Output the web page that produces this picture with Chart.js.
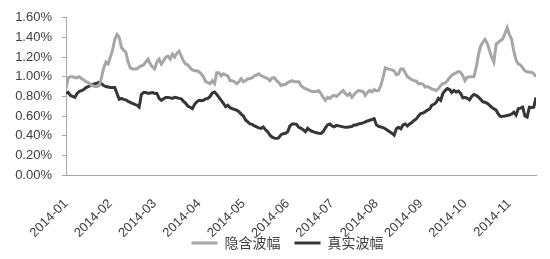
<!DOCTYPE html>
<html>
<head>
<meta charset="utf-8">
<script src="https://cdn.jsdelivr.net/npm/chart.js@4/dist/chart.umd.min.js"></script>
<style>
  html, body { margin: 0; padding: 0; background: #ffffff; }
  #wrap { width: 550px; height: 259px; position: relative; }
</style>
</head>
<body>
<div id="wrap"><canvas id="c"></canvas></div>
<script>
// Month tick labels (one every 20 trading days)
const monthLabels = ['2014-01','2014-02','2014-03','2014-04','2014-05','2014-06','2014-07','2014-08','2014-09','2014-10','2014-11'];
const daysPerLabel = 20;
const seriesNames = ['隐含波幅', '真实波幅'];

// 隐含波幅 (implied volatility, %), daily
const impliedVol = [
  0.88,0.99,1.00,1.00,0.99,0.99,1.00,0.98,0.97,0.95,
  0.94,0.92,0.91,0.90,0.90,0.91,0.99,1.09,1.15,1.13,
  1.20,1.27,1.38,1.43,1.40,1.30,1.27,1.25,1.15,1.09,
  1.08,1.08,1.08,1.10,1.11,1.12,1.15,1.18,1.13,1.10,
  1.08,1.15,1.18,1.13,1.16,1.20,1.21,1.18,1.23,1.20,
  1.24,1.26,1.21,1.16,1.13,1.12,1.09,1.07,1.06,1.06,
  1.05,1.03,1.00,0.95,0.94,0.93,0.96,0.93,1.04,1.04,
  1.01,1.03,1.02,1.01,0.96,0.96,0.95,0.93,0.95,0.98,
  0.95,0.96,0.98,0.98,0.99,1.01,1.02,1.03,1.01,1.00,
  0.99,0.98,0.96,0.99,0.99,0.96,0.94,0.91,0.92,0.92,
  0.94,0.95,0.96,0.95,0.95,0.95,0.91,0.89,0.88,0.87,
  0.86,0.85,0.85,0.85,0.86,0.83,0.79,0.76,0.79,0.78,
  0.80,0.81,0.80,0.82,0.84,0.86,0.83,0.81,0.83,0.79,
  0.82,0.845,0.86,0.855,0.85,0.81,0.84,0.86,0.845,0.87,
  0.855,0.86,0.91,0.99,1.09,1.08,1.075,1.07,1.06,1.02,
  1.03,1.08,1.08,1.04,1.00,0.985,0.97,0.96,0.955,0.93,
  0.93,0.925,0.895,0.90,0.89,0.875,0.87,0.86,0.88,0.91,
  0.93,0.935,0.96,0.99,1.015,1.03,1.04,1.055,1.045,1.01,
  0.96,0.995,1.00,1.00,1.00,1.09,1.22,1.31,1.35,1.38,
  1.34,1.27,1.20,1.15,1.33,1.35,1.37,1.385,1.44,1.50,
  1.43,1.38,1.26,1.17,1.13,1.12,1.09,1.06,1.05,1.045,
  1.045,1.03,1.00
];

// 真实波幅 (realized volatility, %), daily
const realizedVol = [
  0.83,0.84,0.81,0.80,0.79,0.83,0.85,0.86,0.87,0.89,
  0.90,0.91,0.92,0.93,0.935,0.945,0.93,0.91,0.90,0.895,
  0.89,0.89,0.89,0.83,0.77,0.78,0.77,0.765,0.75,0.74,
  0.73,0.72,0.71,0.69,0.82,0.84,0.84,0.83,0.835,0.84,
  0.83,0.83,0.78,0.76,0.775,0.79,0.79,0.785,0.78,0.79,
  0.787,0.78,0.775,0.75,0.73,0.70,0.69,0.675,0.72,0.745,
  0.76,0.755,0.76,0.775,0.78,0.80,0.835,0.845,0.82,0.79,
  0.76,0.73,0.695,0.71,0.685,0.675,0.667,0.66,0.645,0.62,
  0.60,0.56,0.54,0.52,0.515,0.50,0.49,0.48,0.475,0.489,
  0.46,0.44,0.405,0.385,0.375,0.371,0.38,0.41,0.42,0.425,
  0.44,0.50,0.52,0.52,0.516,0.485,0.475,0.46,0.44,0.475,
  0.456,0.445,0.437,0.43,0.425,0.422,0.44,0.48,0.51,0.52,
  0.50,0.49,0.505,0.50,0.495,0.49,0.485,0.487,0.49,0.495,
  0.51,0.51,0.52,0.525,0.53,0.54,0.55,0.557,0.565,0.574,
  0.51,0.495,0.488,0.483,0.47,0.456,0.44,0.425,0.405,0.47,
  0.485,0.47,0.51,0.52,0.50,0.52,0.535,0.555,0.57,0.60,
  0.625,0.63,0.645,0.66,0.67,0.71,0.72,0.74,0.78,0.76,
  0.83,0.86,0.88,0.87,0.84,0.86,0.845,0.855,0.83,0.785,
  0.79,0.78,0.765,0.80,0.82,0.81,0.795,0.77,0.745,0.74,
  0.73,0.71,0.69,0.675,0.66,0.62,0.595,0.597,0.60,0.605,
  0.61,0.62,0.64,0.61,0.675,0.68,0.69,0.60,0.59,0.69,
  0.686,0.69,0.79
];

const yTicks = { min: 0, max: 1.6, step: 0.2 };

const toPoints = arr => arr.map((v, i) => ({ x: i, y: v }));
const lastIndex = impliedVol.length - 1;

// Nudge the legend (drawn over the bottom of the rotated labels as in the source chart)
const legendNudge = {
  id: 'legendNudge',
  afterLayout(chart) {
    const lg = chart.legend;
    if (!lg) return;
    const dx = 12.5, dy = -16;
    lg.left += dx; lg.right += dx;
    lg.top += dy; lg.bottom += dy;
  }
};

new Chart(document.getElementById('c'), {
  type: 'line',
  data: {
    datasets: [
      { label: seriesNames[0], data: toPoints(impliedVol), borderColor: '#a6a6a6', backgroundColor: '#a6a6a6', borderWidth: 3, pointRadius: 0, tension: 0 },
      { label: seriesNames[1], data: toPoints(realizedVol), borderColor: '#363636', backgroundColor: '#363636', borderWidth: 3, pointRadius: 0, tension: 0 }
    ]
  },
  plugins: [legendNudge],
  options: {
    responsive: true,
    maintainAspectRatio: false,
    animation: false,
    layout: { padding: { left: 14, right: 14, top: 17, bottom: -17 } },
    plugins: {
      tooltip: { enabled: false },
      legend: {
        position: 'bottom',
        labels: {
          font: { family: '"Noto Sans CJK SC", sans-serif', size: 14 },
          color: '#404040',
          boxWidth: 26,
          boxHeight: 3,
          padding: 14,
          generateLabels: (chart) => chart.data.datasets.map((ds, i) => ({
            text: ds.label, fillStyle: ds.borderColor, strokeStyle: ds.borderColor,
            lineWidth: 0, hidden: false, datasetIndex: i, fontColor: '#404040'
          }))
        }
      }
    },
    scales: {
      x: {
        type: 'linear',
        min: 0,
        max: lastIndex,
        grid: { display: false },
        border: { display: true, color: '#a6a6a6', width: 1 },
        ticks: {
          stepSize: daysPerLabel,
          autoSkip: false,
          minRotation: 45,
          maxRotation: 45,
          padding: 13,
          color: '#404040',
          font: { family: '"Liberation Sans", Arial, sans-serif', size: 13 },
          callback: (v) => (v % daysPerLabel === 0 && monthLabels[v / daysPerLabel]) ? monthLabels[v / daysPerLabel] : null
        },
        afterFit: (s) => { s.height = 63; }
      },
      y: {
        min: yTicks.min,
        max: yTicks.max,
        grid: { display: true, drawOnChartArea: false, drawTicks: true, tickLength: 4, color: '#a6a6a6' },
        border: { display: true, color: '#a6a6a6', width: 1 },
        ticks: {
          stepSize: yTicks.step,
          padding: 10,
          color: '#404040',
          font: { family: '"Liberation Sans", Arial, sans-serif', size: 13 },
          callback: (v) => v.toFixed(2) + '%'
        },
        afterFit: (s) => { s.width = 52; }
      }
    }
  }
});
</script>
</body>
</html>
